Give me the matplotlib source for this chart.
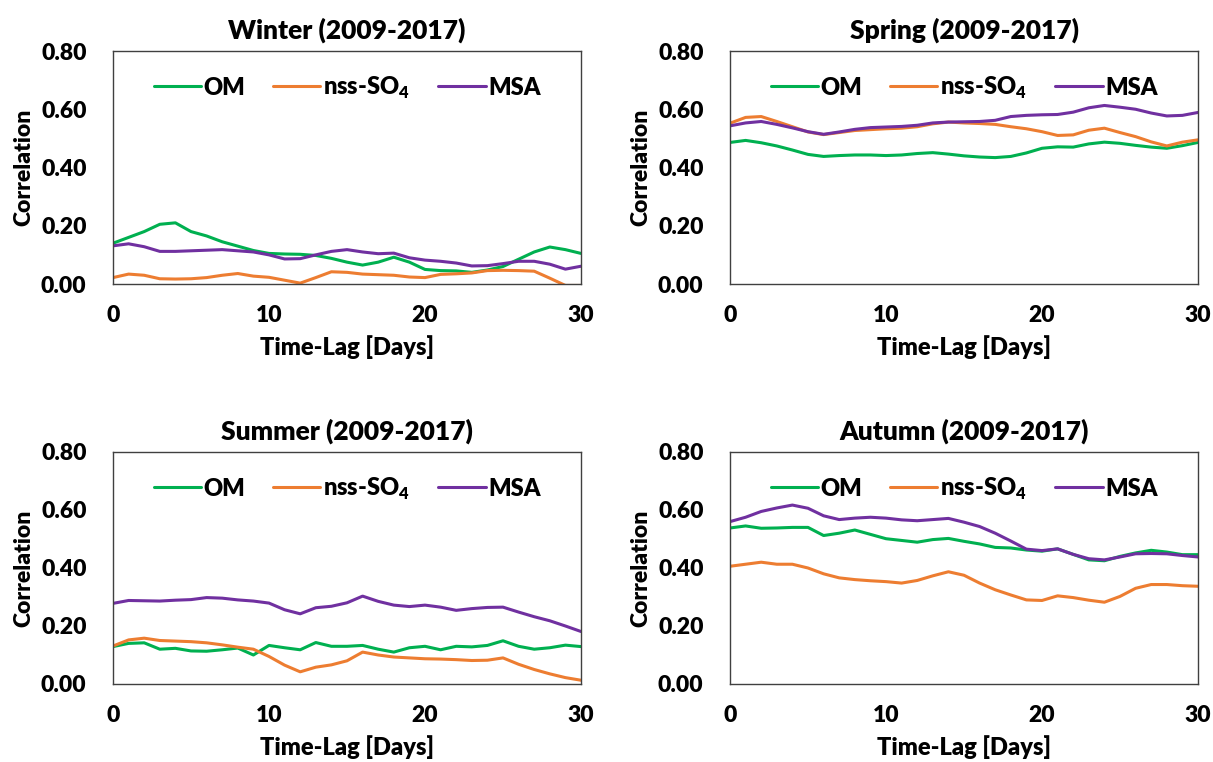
import matplotlib
matplotlib.use('Agg')
import matplotlib.pyplot as plt

plt.rcParams['font.family'] = ['Lato', 'DejaVu Sans']
plt.rcParams['font.weight'] = 'heavy'

# ── Data (one value per lag day) ───────────────────────────────────────────────

days = list(range(31))

winter_om = [0.140, 0.160, 0.180, 0.205, 0.210, 0.180, 0.165, 0.145, 0.130, 0.115,
             0.105, 0.103, 0.102, 0.098, 0.088, 0.075, 0.065, 0.075, 0.092, 0.075,
             0.050, 0.046, 0.045, 0.040, 0.048, 0.060, 0.085, 0.110, 0.127, 0.118,
             0.105]
winter_so4 = [0.022, 0.034, 0.030, 0.018, 0.017, 0.018, 0.022, 0.030, 0.036, 0.027,
              0.023, 0.013, 0.003, 0.022, 0.042, 0.040, 0.034, 0.032, 0.030, 0.024,
              0.022, 0.033, 0.035, 0.038, 0.046, 0.047, 0.046, 0.044, 0.020, -0.005,
              -0.005]
winter_msa = [0.131, 0.138, 0.128, 0.112, 0.112, 0.114, 0.116, 0.118, 0.114, 0.110,
              0.100, 0.086, 0.087, 0.100, 0.112, 0.118, 0.110, 0.104, 0.106, 0.090,
              0.082, 0.078, 0.072, 0.062, 0.063, 0.070, 0.078, 0.078, 0.068, 0.051,
              0.061]

spring_om = [0.486, 0.493, 0.485, 0.474, 0.460, 0.445, 0.438, 0.441, 0.443, 0.443,
             0.441, 0.443, 0.448, 0.451, 0.446, 0.440, 0.436, 0.434, 0.438, 0.450,
             0.466, 0.471, 0.470, 0.481, 0.487, 0.483, 0.476, 0.470, 0.466, 0.475,
             0.486]
spring_so4 = [0.552, 0.572, 0.575, 0.558, 0.540, 0.522, 0.513, 0.520, 0.527, 0.530,
              0.533, 0.535, 0.540, 0.550, 0.556, 0.553, 0.551, 0.548, 0.540, 0.533,
              0.523, 0.510, 0.512, 0.528, 0.535, 0.520, 0.506, 0.488, 0.474, 0.487,
              0.495]
spring_msa = [0.543, 0.553, 0.558, 0.548, 0.536, 0.523, 0.514, 0.522, 0.531, 0.537,
              0.539, 0.541, 0.545, 0.553, 0.556, 0.557, 0.558, 0.562, 0.575, 0.579,
              0.581, 0.582, 0.590, 0.605, 0.613, 0.607, 0.600, 0.587, 0.577, 0.579,
              0.589]

summer_om = [0.129, 0.140, 0.142, 0.120, 0.123, 0.114, 0.113, 0.118, 0.124, 0.100,
             0.133, 0.125, 0.118, 0.143, 0.130, 0.130, 0.133, 0.120, 0.110, 0.125,
             0.130, 0.118, 0.130, 0.128, 0.133, 0.149, 0.130, 0.120, 0.125, 0.134,
             0.129]
summer_so4 = [0.131, 0.152, 0.158, 0.150, 0.148, 0.146, 0.142, 0.135, 0.127, 0.120,
              0.095, 0.065, 0.042, 0.058, 0.066, 0.080, 0.110, 0.100, 0.093, 0.090,
              0.087, 0.086, 0.084, 0.081, 0.082, 0.090, 0.068, 0.050, 0.035, 0.022,
              0.013]
summer_msa = [0.278, 0.288, 0.287, 0.286, 0.289, 0.291, 0.298, 0.296, 0.290, 0.286,
              0.279, 0.256, 0.242, 0.263, 0.268, 0.280, 0.303, 0.285, 0.272, 0.267,
              0.272, 0.265, 0.254, 0.260, 0.264, 0.265, 0.248, 0.232, 0.218, 0.200,
              0.181]

autumn_om = [0.538, 0.545, 0.537, 0.538, 0.540, 0.540, 0.512, 0.520, 0.531, 0.516,
             0.501, 0.495, 0.489, 0.498, 0.502, 0.492, 0.483, 0.471, 0.469, 0.462,
             0.458, 0.466, 0.447, 0.428, 0.425, 0.440, 0.452, 0.461, 0.455, 0.446,
             0.446]
autumn_so4 = [0.406, 0.413, 0.420, 0.413, 0.413, 0.400, 0.380, 0.366, 0.360, 0.356,
              0.353, 0.348, 0.357, 0.373, 0.387, 0.375, 0.348, 0.325, 0.307, 0.290,
              0.288, 0.304, 0.298, 0.289, 0.282, 0.302, 0.330, 0.343, 0.343, 0.339,
              0.337]
autumn_msa = [0.560, 0.575, 0.595, 0.607, 0.617, 0.606, 0.580, 0.567, 0.572, 0.575,
              0.572, 0.566, 0.563, 0.567, 0.571, 0.558, 0.543, 0.520, 0.493, 0.465,
              0.460, 0.466, 0.447, 0.432, 0.428, 0.438, 0.449, 0.450, 0.449, 0.443,
              0.438]

seasons = ['Winter', 'Spring', 'Summer', 'Autumn']
season_data = {
    'Winter': (winter_om, winter_so4, winter_msa),
    'Spring': (spring_om, spring_so4, spring_msa),
    'Summer': (summer_om, summer_so4, summer_msa),
    'Autumn': (autumn_om, autumn_so4, autumn_msa),
}
series_labels = ['OM', 'nss-SO$_\\mathregular{4}$', 'MSA']
colours = ['#00B050', '#ED7D31', '#7030A0']

y_ticks = [0.0, 0.2, 0.4, 0.6, 0.8]
x_ticks = [0, 10, 20, 30]

# ── Figure ─────────────────────────────────────────────────────────────────────

W, H = 1213, 762
fig = plt.figure(figsize=(W / 100, H / 100), dpi=100)

# axes boxes in pixels: (left, top, right, bottom)
boxes = [(113, 51, 581, 284), (730, 51, 1198, 284),
         (113, 452, 581, 684), (730, 452, 1198, 684)]

for season, (l, t, r, b) in zip(seasons, boxes):
    ax = fig.add_axes([l / W, 1 - b / H, (r - l) / W, (b - t) / H])
    for vals, lab, col in zip(season_data[season], series_labels, colours):
        ax.plot(days, vals, color=col, linewidth=2.2, label=lab,
                solid_capstyle='round', solid_joinstyle='round')

    ax.set_xlim(0, 30)
    ax.set_ylim(0, 0.8)
    ax.set_xticks(x_ticks)
    ax.set_yticks(y_ticks)
    ax.set_yticklabels([f'{v:.2f}' for v in y_ticks])
    ax.tick_params(axis='both', length=0, labelsize=16.5)
    ax.tick_params(axis='y', pad=19)
    ax.tick_params(axis='x', pad=15)
    for s in ax.spines.values():
        s.set_color('#404040')
        s.set_linewidth(1.0)

    ax.set_title(f'{season} (2009-2017)', fontsize=19, fontweight='heavy', pad=9)
    ax.set_xlabel('Time-Lag [Days]', fontsize=17, fontweight='heavy', labelpad=7)
    ax.set_ylabel('Correlation', fontsize=16.5, fontweight='heavy', labelpad=5)

    ax.legend(loc='upper center', bbox_to_anchor=(0.5, 0.99), ncol=3,
              frameon=False, fontsize=17, handlelength=2.0, handletextpad=0.1,
              columnspacing=1.2)

fig.savefig('out.png', dpi=100)
